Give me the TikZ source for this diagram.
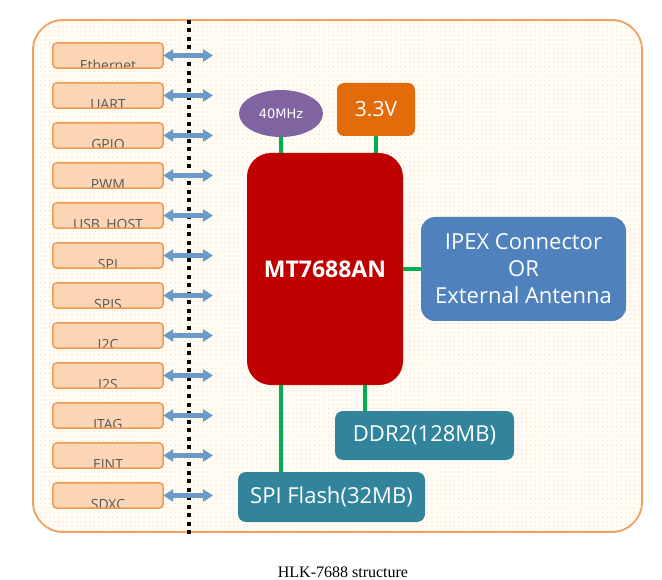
\documentclass[tikz,border=0pt]{standalone}
\usepackage{fontspec}
\setmainfont{Liberation Serif}
\newfontfamily\boxfont{Open Sans}
\newfontfamily\clkfont{DejaVu Sans}
\usetikzlibrary{arrows.meta,patterns.meta,shapes.geometric}

\definecolor{frameline}{HTML}{F0A060}
\definecolor{framefill}{HTML}{FFFCF5}
\definecolor{portline}{HTML}{F09A50}
\definecolor{portfill}{HTML}{FBD5B5}
\definecolor{porttext}{HTML}{595959}
\definecolor{busblue}{HTML}{6A9AC8}
\definecolor{wire}{HTML}{00B050}
\definecolor{socred}{HTML}{C00000}
\definecolor{clkpurple}{HTML}{8064A2}
\definecolor{pwrorange}{HTML}{E36C0A}
\definecolor{antblue}{HTML}{4F81BD}
\definecolor{memteal}{HTML}{31849B}

\tikzset{
  portbox/.style={fill=portfill, rounded corners=4pt, minimum width=110, minimum height=25, inner sep=0pt},
  portedge/.style={draw=portline, line width=1.5pt, rounded corners=4pt},
  portlabel/.style={anchor=north, inner sep=0pt, text=porttext, font=\boxfont\fontsize{14}{16}\selectfont},
  bus/.style={busblue, line width=4.5pt, {Triangle[width=12pt,length=10pt]}-{Triangle[width=12pt,length=10pt]}},
  link/.style={wire, line width=3.8pt},
  block/.style={rounded corners=9pt, text=white, inner sep=0pt, align=center,
    font=\boxfont\fontsize{22}{27}\selectfont}
}

\begin{document}
\begin{tikzpicture}[x=1pt, y=-1pt]
    \useasboundingbox (0,0) rectangle (662,580);

    % Rahmen
    \path[rounded corners=30pt, fill=framefill] (33,20) rectangle (642,532);
    \path[rounded corners=30pt, pattern={Dots[distance=4.5pt,radius=0.55pt]}, pattern color=orange!30] (33,20) rectangle (642,532);
    \draw[rounded corners=30pt, frameline, line width=1.8pt] (33,20) rectangle (642,532);

    % Trennlinie
    \draw[black, line width=4pt, dash pattern=on 4pt off 4.5pt] (189,20) -- (189,538);

    % Schnittstellen (Beschriftung unten abgeschnitten)
    \foreach \name/\lab [count=\i from 0] in {eth/Ethernet, uart/UART, gpio/GPIO, pwm/PWM,
        usb/USB\_HOST, spi/SPI, spis/SPIS, iic/I2C, iis/I2S, jtag/JTAG, eint/EINT, sdxc/SDXC} {
      \node[portbox] (\name) at (108,{55.5+40*\i}) {};
      \begin{scope}
        \clip (\name.south west) rectangle (\name.north east);
        \node[portlabel] (\name-lab) at ([yshift=9pt]\name.south) {\lab};
      \end{scope}
      \draw[portedge] (\name.south west) rectangle (\name.north east);
      \coordinate (\name-end) at (213,{55.5+40*\i});
      \draw[bus] (\name.east) -- (\name-end);
    }

    % SoC und Peripherie
    \node[block, fill=socred, rounded corners=24pt, minimum width=156, minimum height=232,
      font=\boxfont\bfseries\fontsize{23}{27}\selectfont] (soc) at (325,269) {MT7688AN};
    \node[ellipse, fill=clkpurple, text=white, minimum width=84, minimum height=47, inner sep=0pt,
      font=\clkfont\fontsize{13}{15}\selectfont] (clk) at (281,113.5) {40MHz};
    \node[block, fill=pwrorange, rounded corners=7pt, minimum width=78, minimum height=53,
      font=\boxfont\fontsize{21}{25}\selectfont] (pwr) at (376,109.5) {3.3V};
    \node[block, fill=antblue, rounded corners=14pt, minimum width=205, minimum height=104] (ant) at (523.5,269)
      {IPEX Connector\\OR\\External Antenna};
    \node[block, fill=memteal, rounded corners=8pt, minimum width=179, minimum height=49] (ddr) at (424.5,435.5) {DDR2(128MB)};
    \node[block, fill=memteal, rounded corners=8pt, minimum width=187, minimum height=50] (flash) at (331.5,497) {SPI Flash(32MB)};

    % Verbindungen
    \draw[link] (clk.south) -- (clk.south |- soc.north);
    \draw[link] (pwr.south) -- (pwr.south |- soc.north);
    \draw[link] (soc.east) -- (ant.west);
    \draw[link] (ddr.north -| 365,0) -- (soc.south -| 365,0);
    \draw[link] (flash.north -| 281,0) -- (soc.south -| 281,0);

    % Titel
    \node[font=\fontsize{16}{18}\selectfont] (title) at (343,572) {HLK-7688 structure};

\end{tikzpicture}
\end{document}
